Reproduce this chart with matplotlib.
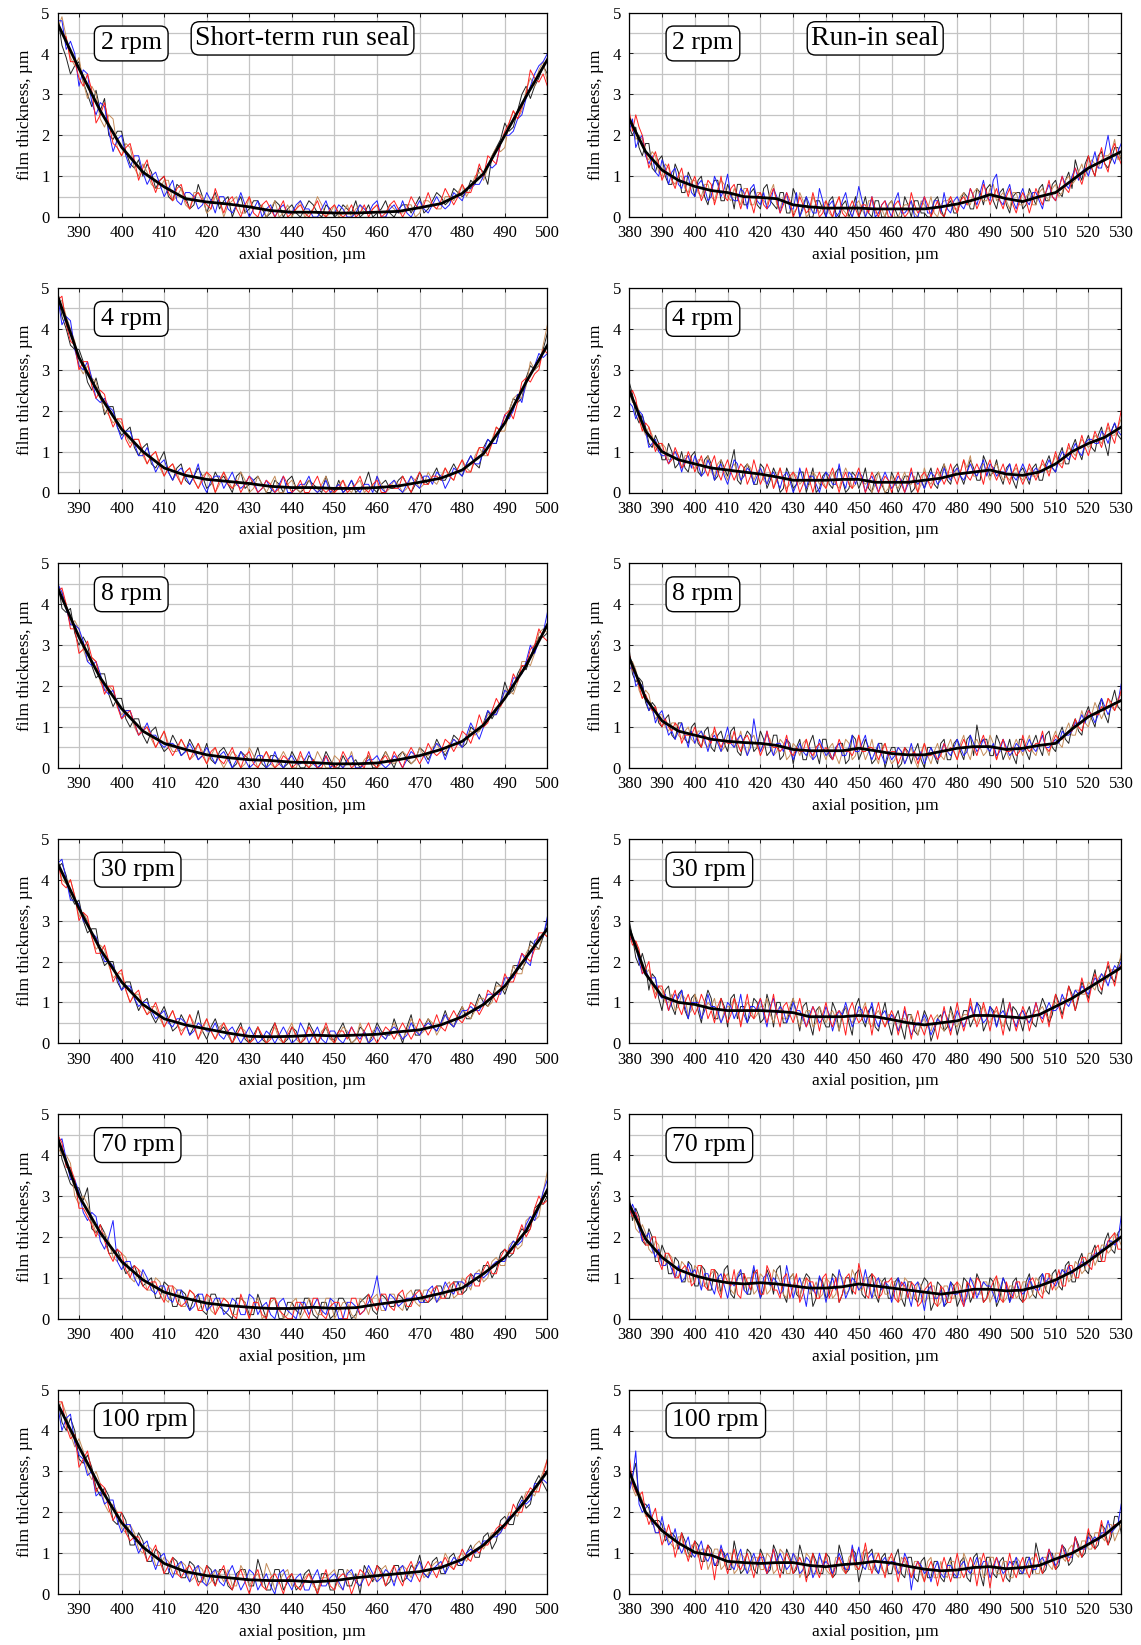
import numpy as np
import matplotlib.pyplot as plt
from matplotlib.ticker import MultipleLocator

plt.rcParams['font.family'] = ['Liberation Serif', 'DejaVu Serif']

speeds = [2, 4, 8, 30, 70, 100]
seal_names = ["Short-term run seal", "Run-in seal"]

# Each single measurement is sampled every 1 µm and stored as two interleaved
# halves: samples at start, start+2, ... and samples at start+1, start+3, ...
short_start, runin_start = 384, 380
short_avg_x = np.arange(385, 501, 5)
runin_avg_x = np.arange(380, 531, 5)

# ---------------- short-term run seal ----------------
short_2_m1 = [5.0, 4.2, 3.5, 3.8, 3.0, 3.1, 2.9, 1.9, 2.1, 1.3,
              1.4, 1.3, 0.7, 1.0, 0.4, 0.7, 0.2, 0.8, 0.1, 0.6,
              0.4, 0.0, 0.5, 0.2, 0.4, 0.0, 0.4, 0.0, 0.3, 0.0,
              0.4, 0.1, 0.3, 0.0, 0.3, 0.1, 0.0, 0.3, 0.1, 0.4,
              0.0, 0.3, 0.1, 0.5, 0.2, 0.6, 0.3, 0.7, 0.5, 0.9,
              1.2, 0.8, 1.7, 2.3, 2.2, 3.0, 2.9, 3.4, 3.5]
short_2_m1_i = [4.9, 3.9, 3.7, 3.3, 2.7, 2.6, 2.0, 2.1, 1.6, 1.2,
                1.0, 1.1, 0.9, 0.5, 0.8, 0.5, 0.3, 0.5, 0.4, 0.2,
                0.5, 0.3, 0.1, 0.4, 0.2, 0.1, 0.3, 0.2, 0.1, 0.2,
                0.3, 0.0, 0.2, 0.1, 0.2, 0.4, 0.1, 0.0, 0.2, 0.1,
                0.2, 0.3, 0.3, 0.1, 0.4, 0.5, 0.4, 0.6, 0.6, 0.8,
                1.1, 1.5, 1.9, 2.1, 2.6, 3.2, 3.2, 3.7]
short_2_m2 = [5.0, 4.9, 3.9, 3.9, 2.9, 3.0, 2.2, 2.4, 1.5, 1.7,
              1.0, 1.1, 0.7, 0.9, 0.4, 0.7, 0.2, 0.6, 0.1, 0.5,
              0.0, 0.4, 0.1, 0.5, 0.2, 0.0, 0.4, 0.1, 0.0, 0.4,
              0.1, 0.5, 0.0, 0.3, 0.1, 0.0, 0.3, 0.1, 0.3, 0.0,
              0.2, 0.1, 0.3, 0.1, 0.4, 0.2, 0.5, 0.4, 0.8, 0.7,
              1.1, 1.2, 1.7, 1.7, 2.6, 2.6, 3.4, 3.6, 3.3]
short_2_m2_i = [4.6, 4.4, 3.7, 3.3, 3.2, 2.4, 2.5, 1.7, 1.8, 1.2,
                1.3, 0.8, 0.7, 0.9, 0.5, 0.3, 0.6, 0.5, 0.2, 0.4,
                0.3, 0.5, 0.1, 0.2, 0.3, 0.2, 0.0, 0.3, 0.2, 0.0,
                0.2, 0.3, 0.1, 0.0, 0.3, 0.2, 0.1, 0.2, 0.0, 0.3,
                0.1, 0.3, 0.0, 0.4, 0.3, 0.2, 0.5, 0.6, 0.5, 1.0,
                0.9, 1.5, 1.6, 2.3, 2.4, 3.1, 3.2, 3.8]
short_2_m3 = [4.4, 4.8, 4.3, 3.2, 3.5, 2.5, 2.7, 1.6, 2.0, 1.2,
              1.5, 0.8, 1.1, 0.5, 0.9, 0.3, 0.6, 0.2, 0.6, 0.1,
              0.5, 0.1, 0.6, 0.0, 0.4, 0.2, 0.0, 0.3, 0.1, 0.4,
              0.2, 0.0, 0.4, 0.1, 0.2, 0.0, 0.3, 0.1, 0.4, 0.0,
              0.3, 0.4, 0.0, 0.4, 0.1, 0.5, 0.2, 0.6, 0.4, 0.7,
              0.8, 1.3, 1.3, 2.0, 2.1, 2.5, 3.2, 3.7, 4.0]
short_2_m3_i = [4.8, 4.1, 4.0, 3.6, 2.8, 2.8, 2.1, 1.9, 1.5, 1.5,
                1.1, 1.0, 0.8, 0.7, 0.4, 0.6, 0.5, 0.3, 0.4, 0.5,
                0.2, 0.3, 0.3, 0.2, 0.0, 0.3, 0.2, 0.1, 0.3, 0.2,
                0.0, 0.2, 0.1, 0.3, 0.0, 0.1, 0.2, 0.3, 0.0, 0.2,
                0.1, 0.1, 0.2, 0.2, 0.3, 0.3, 0.3, 0.5, 0.7, 0.8,
                1.0, 1.2, 1.8, 2.0, 2.4, 2.9, 3.5, 3.8]
short_2_m4 = [5.0, 4.5, 3.8, 3.4, 3.5, 2.3, 2.8, 1.8, 1.5, 1.8,
              0.9, 1.4, 0.6, 1.0, 0.4, 0.8, 0.2, 0.6, 0.3, 0.7,
              0.1, 0.5, 0.0, 0.5, 0.0, 0.4, 0.0, 0.4, 0.1, 0.3,
              0.0, 0.4, 0.0, 0.3, 0.0, 0.3, 0.1, 0.0, 0.3, 0.1,
              0.4, 0.0, 0.5, 0.2, 0.6, 0.2, 0.7, 0.3, 0.8, 0.6,
              1.3, 1.5, 1.3, 2.1, 2.6, 2.7, 3.6, 3.3, 3.2]
short_2_m4_i = [4.7, 4.4, 3.8, 3.2, 3.1, 2.5, 2.3, 1.7, 1.7, 1.4,
                1.2, 0.9, 0.9, 0.6, 0.7, 0.4, 0.5, 0.4, 0.2, 0.4,
                0.4, 0.2, 0.3, 0.1, 0.3, 0.2, 0.2, 0.0, 0.2, 0.1,
                0.2, 0.1, 0.2, 0.1, 0.1, 0.0, 0.3, 0.2, 0.0, 0.3,
                0.2, 0.2, 0.3, 0.3, 0.3, 0.4, 0.5, 0.5, 0.6, 0.9,
                1.0, 1.4, 1.8, 2.3, 2.4, 3.0, 3.4, 3.5]
short_2_avg = [4.73, 3.63, 2.6, 1.71, 1.1, 0.74, 0.45, 0.37, 0.32, 0.25, 0.16, 0.12,
               0.12, 0.1, 0.1, 0.12, 0.14, 0.23, 0.33, 0.58, 1.06, 2.0, 2.95, 3.85]

short_4_m1 = [5.0, 4.3, 3.6, 3.5, 2.7, 2.8, 1.9, 2.1, 1.4, 1.6,
              0.9, 1.2, 0.6, 1.0, 0.3, 0.7, 0.2, 0.6, 0.1, 0.5,
              0.4, 0.0, 0.5, 0.2, 0.4, 0.0, 0.3, 0.0, 0.4, 0.0,
              0.3, 0.1, 0.4, 0.0, 0.0, 0.3, 0.1, 0.5, 0.0, 0.3,
              0.1, 0.4, 0.0, 0.5, 0.2, 0.6, 0.3, 0.7, 0.4, 0.9,
              0.6, 1.3, 1.2, 1.7, 2.3, 2.3, 3.1, 3.1, 3.9]
short_4_m1_i = [4.9, 4.0, 3.5, 3.2, 2.5, 2.4, 2.1, 1.6, 1.5, 1.1,
                1.1, 0.7, 0.8, 0.5, 0.6, 0.3, 0.4, 0.4, 0.2, 0.3,
                0.2, 0.4, 0.1, 0.3, 0.2, 0.0, 0.2, 0.3, 0.1, 0.1,
                0.2, 0.0, 0.1, 0.3, 0.1, 0.0, 0.2, 0.1, 0.2, 0.1,
                0.3, 0.2, 0.2, 0.3, 0.4, 0.3, 0.5, 0.5, 0.7, 0.7,
                1.1, 1.2, 1.6, 2.0, 2.2, 2.8, 3.0, 3.5]
short_4_m2 = [5.0, 4.7, 4.0, 3.1, 3.1, 2.7, 2.0, 1.7, 1.7, 1.2,
              1.3, 0.7, 1.0, 0.4, 0.7, 0.2, 0.6, 0.1, 0.5, 0.0,
              0.5, 0.1, 0.5, 0.0, 0.4, 0.0, 0.4, 0.0, 0.3, 0.0,
              0.3, 0.0, 0.4, 0.0, 0.3, 0.0, 0.3, 0.1, 0.4, 0.0,
              0.3, 0.0, 0.4, 0.1, 0.5, 0.2, 0.6, 0.3, 0.8, 0.5,
              1.1, 0.9, 1.6, 1.5, 2.3, 2.3, 3.2, 3.1, 4.1]
short_4_m2_i = [4.6, 4.3, 3.7, 2.9, 2.8, 2.3, 1.9, 1.8, 1.4, 1.3,
                0.9, 0.9, 0.6, 0.6, 0.5, 0.5, 0.3, 0.4, 0.3, 0.2,
                0.3, 0.2, 0.3, 0.1, 0.2, 0.2, 0.0, 0.2, 0.1, 0.2,
                0.1, 0.2, 0.0, 0.2, 0.1, 0.2, 0.0, 0.1, 0.2, 0.1,
                0.2, 0.1, 0.3, 0.2, 0.3, 0.4, 0.4, 0.6, 0.6, 0.9,
                0.9, 1.3, 1.5, 2.0, 2.4, 2.6, 3.0, 3.6]
short_4_m3 = [4.7, 4.1, 4.2, 3.1, 3.2, 2.3, 2.3, 2.0, 1.3, 1.5,
              0.9, 1.1, 0.5, 0.8, 0.3, 0.6, 0.2, 0.7, 0.0, 0.4,
              0.1, 0.5, 0.1, 0.4, 0.0, 0.3, 0.0, 0.4, 0.0, 0.2,
              0.4, 0.0, 0.3, 0.1, 0.0, 0.3, 0.0, 0.2, 0.4, 0.0,
              0.3, 0.0, 0.4, 0.1, 0.4, 0.5, 0.1, 0.6, 0.4, 0.9,
              0.7, 1.3, 1.2, 1.9, 2.0, 2.2, 2.9, 3.4, 3.4]
short_4_m3_i = [4.8, 4.3, 3.5, 3.0, 2.8, 2.2, 2.1, 1.6, 1.5, 1.2,
                0.9, 0.8, 0.7, 0.5, 0.5, 0.4, 0.4, 0.2, 0.3, 0.4,
                0.3, 0.2, 0.2, 0.3, 0.1, 0.1, 0.2, 0.0, 0.1, 0.2,
                0.1, 0.1, 0.0, 0.2, 0.1, 0.1, 0.2, 0.0, 0.1, 0.2,
                0.1, 0.2, 0.2, 0.4, 0.2, 0.4, 0.3, 0.5, 0.7, 0.7,
                1.0, 1.2, 1.6, 1.8, 2.4, 2.7, 3.1, 3.3]
short_4_m4 = [5.0, 4.8, 3.7, 3.0, 3.2, 2.3, 2.4, 1.6, 1.8, 1.1,
              1.3, 0.7, 1.0, 0.4, 0.7, 0.2, 0.6, 0.1, 0.5, 0.0,
              0.5, 0.1, 0.0, 0.4, 0.0, 0.3, 0.0, 0.4, 0.0, 0.3,
              0.0, 0.4, 0.0, 0.0, 0.3, 0.1, 0.4, 0.0, 0.3, 0.0,
              0.1, 0.4, 0.0, 0.5, 0.2, 0.4, 0.6, 0.3, 0.8, 0.5,
              1.1, 0.9, 1.6, 1.9, 1.8, 2.7, 2.7, 3.0, 3.4]
short_4_m4_i = [4.7, 4.1, 3.6, 3.2, 2.6, 2.5, 1.9, 1.8, 1.3, 1.3,
                1.0, 0.9, 0.7, 0.6, 0.4, 0.5, 0.3, 0.3, 0.4, 0.3,
                0.2, 0.3, 0.2, 0.2, 0.1, 0.2, 0.1, 0.2, 0.1, 0.0,
                0.2, 0.1, 0.1, 0.1, 0.0, 0.2, 0.1, 0.2, 0.0, 0.2,
                0.1, 0.2, 0.3, 0.2, 0.4, 0.3, 0.4, 0.6, 0.5, 0.8,
                1.1, 1.2, 1.5, 2.0, 2.2, 2.8, 2.9, 3.5]
short_4_avg = [4.8, 3.3, 2.35, 1.55, 1.0, 0.6, 0.42, 0.32, 0.27, 0.22, 0.15, 0.12,
               0.12, 0.1, 0.1, 0.12, 0.16, 0.25, 0.35, 0.55, 0.95, 1.7, 2.7, 3.6]

short_8_m1 = [4.4, 3.9, 3.9, 3.0, 3.0, 2.2, 2.3, 1.5, 1.7, 1.0,
              1.2, 0.6, 1.0, 0.4, 0.8, 0.3, 0.7, 0.2, 0.6, 0.1,
              0.5, 0.0, 0.4, 0.2, 0.5, 0.0, 0.3, 0.0, 0.4, 0.0,
              0.3, 0.0, 0.4, 0.0, 0.3, 0.1, 0.0, 0.3, 0.0, 0.4,
              0.0, 0.4, 0.1, 0.5, 0.2, 0.7, 0.3, 0.8, 0.5, 1.0,
              0.9, 1.4, 1.4, 2.1, 1.9, 2.5, 2.7, 3.2, 3.3]
short_8_m1_i = [4.6, 3.8, 3.3, 3.2, 2.5, 2.3, 1.8, 1.7, 1.2, 1.2,
                0.8, 0.9, 0.6, 0.5, 0.6, 0.4, 0.5, 0.3, 0.2, 0.4,
                0.3, 0.1, 0.3, 0.2, 0.1, 0.3, 0.2, 0.1, 0.2, 0.0,
                0.2, 0.1, 0.2, 0.0, 0.1, 0.2, 0.1, 0.0, 0.2, 0.2,
                0.3, 0.2, 0.2, 0.4, 0.4, 0.5, 0.5, 0.7, 0.6, 0.9,
                1.1, 1.2, 1.6, 1.8, 2.3, 2.4, 3.0, 3.2]
short_8_m2 = [4.8, 4.3, 3.5, 3.4, 2.6, 2.6, 1.9, 1.9, 1.3, 1.4,
              0.8, 1.0, 0.5, 0.9, 0.4, 0.7, 0.2, 0.6, 0.1, 0.5,
              0.0, 0.4, 0.0, 0.5, 0.0, 0.4, 0.0, 0.4, 0.0, 0.3,
              0.0, 0.4, 0.0, 0.3, 0.0, 0.4, 0.0, 0.3, 0.0, 0.4,
              0.1, 0.4, 0.1, 0.5, 0.3, 0.6, 0.4, 0.7, 0.5, 0.9,
              0.9, 1.3, 1.3, 1.9, 1.8, 2.6, 2.5, 3.3, 3.3]
short_8_m2_i = [4.3, 4.0, 3.6, 2.9, 2.7, 2.1, 2.0, 1.5, 1.4, 1.0,
                1.0, 0.7, 0.7, 0.6, 0.4, 0.5, 0.3, 0.4, 0.3, 0.2,
                0.2, 0.3, 0.1, 0.3, 0.2, 0.1, 0.2, 0.2, 0.0, 0.2,
                0.1, 0.2, 0.0, 0.2, 0.1, 0.0, 0.2, 0.1, 0.1, 0.2,
                0.2, 0.3, 0.2, 0.3, 0.5, 0.4, 0.6, 0.6, 0.8, 0.8,
                1.1, 1.3, 1.5, 1.9, 2.1, 2.6, 2.8, 3.4]
short_8_m3 = [4.4, 4.3, 3.5, 3.4, 2.6, 2.6, 1.9, 1.9, 1.2, 1.4,
              0.8, 1.1, 0.8, 0.5, 0.6, 0.3, 0.6, 0.2, 0.5, 0.1,
              0.4, 0.0, 0.4, 0.0, 0.3, 0.0, 0.4, 0.0, 0.3, 0.1,
              0.4, 0.0, 0.3, 0.1, 0.0, 0.3, 0.0, 0.2, 0.3, 0.0,
              0.3, 0.0, 0.4, 0.3, 0.1, 0.6, 0.2, 0.7, 0.5, 1.1,
              0.7, 1.4, 1.3, 1.9, 2.2, 2.3, 3.0, 3.1, 3.8]
short_8_m3_i = [4.5, 3.9, 3.5, 3.1, 2.5, 2.3, 1.8, 1.6, 1.4, 1.1,
                0.9, 0.8, 0.6, 0.6, 0.5, 0.4, 0.4, 0.3, 0.3, 0.3,
                0.2, 0.2, 0.2, 0.1, 0.3, 0.1, 0.1, 0.2, 0.1, 0.2,
                0.1, 0.1, 0.0, 0.1, 0.2, 0.0, 0.1, 0.2, 0.1, 0.1,
                0.2, 0.2, 0.3, 0.3, 0.4, 0.5, 0.5, 0.6, 0.8, 0.9,
                1.0, 1.3, 1.6, 1.8, 2.2, 2.6, 2.8, 3.3]
short_8_m4 = [4.9, 4.4, 3.4, 2.8, 3.1, 2.6, 1.8, 2.0, 1.2, 1.4,
              0.8, 1.0, 0.5, 0.9, 0.3, 0.7, 0.2, 0.6, 0.1, 0.5,
              0.1, 0.5, 0.0, 0.4, 0.0, 0.4, 0.0, 0.3, 0.0, 0.4,
              0.0, 0.0, 0.3, 0.0, 0.4, 0.0, 0.1, 0.4, 0.0, 0.3,
              0.4, 0.0, 0.5, 0.1, 0.6, 0.3, 0.7, 0.4, 0.9, 0.6,
              1.3, 1.1, 1.7, 1.7, 2.3, 2.5, 2.9, 3.4, 3.1]
short_8_m4_i = [4.3, 4.0, 3.4, 2.9, 2.7, 2.2, 2.0, 1.5, 1.3, 1.1,
                0.9, 0.8, 0.7, 0.5, 0.5, 0.5, 0.4, 0.3, 0.4, 0.2,
                0.3, 0.2, 0.3, 0.1, 0.2, 0.2, 0.1, 0.2, 0.1, 0.1,
                0.2, 0.0, 0.1, 0.1, 0.2, 0.1, 0.0, 0.1, 0.2, 0.1,
                0.2, 0.3, 0.3, 0.3, 0.4, 0.4, 0.6, 0.6, 0.8, 0.9,
                1.0, 1.4, 1.5, 1.9, 2.1, 2.5, 3.0, 3.2]
short_8_avg = [4.4, 3.2, 2.2, 1.45, 0.9, 0.6, 0.45, 0.32, 0.25, 0.2, 0.18, 0.14,
               0.13, 0.1, 0.1, 0.12, 0.2, 0.3, 0.45, 0.65, 1.05, 1.7, 2.5, 3.5]

short_30_m1 = [4.4, 4.4, 3.6, 3.5, 2.7, 2.8, 1.9, 2.0, 1.3, 1.5,
               0.8, 1.1, 0.5, 0.9, 0.3, 0.7, 0.2, 0.8, 0.1, 0.6,
               0.4, 0.0, 0.5, 0.0, 0.4, 0.0, 0.5, 0.0, 0.4, 0.0,
               0.5, 0.0, 0.4, 0.1, 0.5, 0.0, 0.4, 0.0, 0.5, 0.2,
               0.6, 0.0, 0.7, 0.2, 0.6, 0.3, 0.8, 0.4, 0.9, 0.6,
               1.2, 0.9, 1.5, 1.2, 1.9, 1.8, 2.5, 2.3, 3.0]
short_30_m1_i = [4.3, 4.1, 3.4, 3.0, 2.8, 2.2, 2.0, 1.5, 1.5, 1.1,
                 1.0, 0.7, 0.7, 0.6, 0.4, 0.5, 0.4, 0.3, 0.4, 0.3,
                 0.2, 0.3, 0.1, 0.2, 0.1, 0.3, 0.2, 0.1, 0.3, 0.1,
                 0.3, 0.2, 0.1, 0.3, 0.2, 0.1, 0.3, 0.2, 0.3, 0.2,
                 0.3, 0.4, 0.2, 0.4, 0.4, 0.5, 0.5, 0.7, 0.6, 0.9,
                 1.0, 1.1, 1.4, 1.5, 1.9, 2.0, 2.4, 2.6]
short_30_m2 = [4.7, 4.0, 4.0, 3.1, 3.0, 2.3, 2.3, 1.6, 1.7, 1.0,
               1.2, 0.7, 0.9, 0.4, 0.8, 0.3, 0.7, 0.1, 0.6, 0.1,
               0.5, 0.0, 0.4, 0.0, 0.4, 0.0, 0.4, 0.0, 0.5, 0.0,
               0.4, 0.0, 0.4, 0.0, 0.4, 0.0, 0.5, 0.0, 0.4, 0.1,
               0.5, 0.1, 0.6, 0.2, 0.6, 0.2, 0.7, 0.4, 0.9, 0.6,
               1.1, 0.9, 1.4, 1.3, 1.9, 1.7, 2.4, 2.3, 2.6]
short_30_m2_i = [4.5, 3.9, 3.6, 3.2, 2.6, 2.4, 1.9, 1.7, 1.3, 1.2,
                 0.9, 0.9, 0.6, 0.6, 0.5, 0.4, 0.5, 0.3, 0.3, 0.4,
                 0.2, 0.2, 0.3, 0.1, 0.2, 0.2, 0.1, 0.3, 0.1, 0.2,
                 0.2, 0.3, 0.1, 0.2, 0.3, 0.1, 0.2, 0.3, 0.2, 0.3,
                 0.2, 0.3, 0.4, 0.3, 0.5, 0.4, 0.6, 0.6, 0.7, 0.8,
                 1.1, 1.0, 1.4, 1.5, 1.7, 2.2, 2.3, 2.7]
short_30_m3 = [4.2, 4.5, 3.5, 3.4, 2.9, 2.6, 2.0, 1.9, 1.3, 1.4,
               0.9, 1.0, 0.6, 0.8, 0.4, 0.6, 0.2, 0.5, 0.3, 0.5,
               0.1, 0.4, 0.0, 0.4, 0.0, 0.3, 0.0, 0.4, 0.0, 0.5,
               0.0, 0.4, 0.0, 0.3, 0.0, 0.4, 0.1, 0.0, 0.4, 0.1,
               0.4, 0.1, 0.5, 0.2, 0.5, 0.3, 0.7, 0.4, 0.8, 0.9,
               0.8, 1.2, 1.2, 1.6, 1.6, 2.2, 1.9, 2.6, 3.1]
short_30_m3_i = [4.4, 4.0, 3.5, 3.0, 2.7, 2.3, 2.0, 1.6, 1.4, 1.1,
                 1.0, 0.8, 0.7, 0.5, 0.6, 0.5, 0.3, 0.4, 0.3, 0.2,
                 0.3, 0.2, 0.2, 0.2, 0.1, 0.2, 0.2, 0.2, 0.1, 0.3,
                 0.2, 0.1, 0.3, 0.1, 0.2, 0.2, 0.3, 0.1, 0.2, 0.3,
                 0.3, 0.2, 0.3, 0.4, 0.4, 0.5, 0.5, 0.6, 0.8, 0.8,
                 1.0, 1.2, 1.2, 1.6, 1.9, 2.0, 2.5, 2.6]
short_30_m4 = [4.8, 3.9, 4.0, 3.0, 3.1, 2.2, 2.4, 1.5, 1.8, 1.0,
               1.3, 0.7, 1.0, 0.4, 0.8, 0.2, 0.7, 0.1, 0.6, 0.1,
               0.5, 0.0, 0.4, 0.0, 0.4, 0.0, 0.5, 0.0, 0.4, 0.0,
               0.4, 0.0, 0.5, 0.0, 0.3, 0.4, 0.0, 0.5, 0.0, 0.4,
               0.1, 0.5, 0.1, 0.6, 0.2, 0.7, 0.3, 0.8, 0.5, 1.0,
               0.7, 1.3, 1.0, 1.7, 1.5, 2.2, 2.0, 2.7, 2.6]
short_30_m4_i = [4.5, 3.8, 3.6, 3.2, 2.6, 2.2, 2.0, 1.7, 1.3, 1.2,
                 0.9, 0.8, 0.7, 0.6, 0.5, 0.4, 0.4, 0.4, 0.3, 0.3,
                 0.3, 0.2, 0.2, 0.1, 0.2, 0.1, 0.2, 0.2, 0.2, 0.1,
                 0.2, 0.2, 0.2, 0.3, 0.1, 0.2, 0.3, 0.2, 0.2, 0.3,
                 0.3, 0.3, 0.3, 0.4, 0.4, 0.4, 0.6, 0.6, 0.7, 0.9,
                 0.9, 1.2, 1.3, 1.5, 1.8, 2.1, 2.3, 2.7]
short_30_avg = [4.4, 3.3, 2.3, 1.5, 0.95, 0.6, 0.45, 0.35, 0.25, 0.17, 0.16, 0.17,
                0.2, 0.18, 0.2, 0.22, 0.28, 0.33, 0.45, 0.65, 0.95, 1.4, 2.1, 2.8]

short_70_m1 = [4.4, 3.9, 3.3, 3.2, 3.2, 2.1, 2.1, 1.6, 1.4, 1.2,
               1.0, 0.9, 0.5, 0.9, 0.3, 0.7, 0.2, 0.6, 0.1, 0.6,
               0.2, 0.0, 0.5, 0.1, 0.6, 0.0, 0.5, 0.0, 0.4, 0.1,
               0.5, 0.0, 0.4, 0.1, 0.5, 0.0, 0.4, 0.6, 0.1, 0.5,
               0.3, 0.5, 0.4, 0.7, 0.4, 0.8, 0.5, 0.9, 0.6, 1.1,
               0.9, 1.3, 1.2, 1.7, 1.6, 2.2, 2.2, 2.8, 3.0]
short_70_m1_i = [4.6, 3.6, 3.2, 2.9, 2.2, 2.3, 1.6, 1.7, 1.1, 1.3,
                 0.8, 1.0, 0.5, 0.8, 0.3, 0.6, 0.5, 0.2, 0.6, 0.3,
                 0.1, 0.5, 0.4, 0.1, 0.3, 0.5, 0.0, 0.4, 0.2, 0.5,
                 0.1, 0.4, 0.0, 0.5, 0.3, 0.1, 0.5, 0.2, 0.6, 0.3,
                 0.6, 0.2, 0.7, 0.4, 0.5, 0.8, 0.5, 0.9, 0.7, 1.0,
                 1.3, 1.0, 1.6, 1.5, 2.0, 2.1, 2.7, 2.8]
short_70_m2 = [4.8, 4.0, 3.8, 2.8, 2.8, 2.1, 2.1, 1.5, 1.6, 1.0,
               1.2, 0.7, 1.0, 0.5, 0.8, 0.3, 0.7, 0.2, 0.6, 0.1,
               0.5, 0.1, 0.5, 0.0, 0.5, 0.1, 0.5, 0.0, 0.4, 0.0,
               0.5, 0.1, 0.5, 0.0, 0.4, 0.1, 0.5, 0.1, 0.6, 0.2,
               0.6, 0.2, 0.7, 0.3, 0.7, 0.4, 0.8, 0.5, 1.0, 0.7,
               1.2, 1.0, 1.5, 1.3, 1.9, 1.8, 2.5, 2.5, 3.6]
short_70_m2_i = [4.2, 4.0, 3.0, 3.0, 2.4, 2.0, 1.9, 1.4, 1.5, 0.9,
                 1.1, 0.7, 0.9, 0.4, 0.7, 0.3, 0.6, 0.4, 0.2, 0.5,
                 0.4, 0.1, 0.4, 0.3, 0.0, 0.4, 0.3, 0.1, 0.5, 0.2,
                 0.3, 0.1, 0.5, 0.2, 0.4, 0.0, 0.4, 0.5, 0.2, 0.6,
                 0.3, 0.6, 0.4, 0.7, 0.6, 0.5, 0.9, 0.6, 0.9, 1.1,
                 0.9, 1.4, 1.3, 1.8, 1.7, 2.4, 2.4, 3.1]
short_70_m3 = [4.5, 4.4, 3.4, 3.1, 2.4, 2.5, 1.7, 2.4, 1.2, 1.4,
               0.8, 1.0, 0.6, 0.8, 0.4, 0.7, 0.2, 0.6, 0.2, 0.5,
               0.1, 0.5, 0.1, 0.6, 0.1, 0.4, 0.0, 0.5, 0.1, 0.4,
               0.1, 0.5, 0.1, 0.4, 0.0, 0.4, 0.1, 0.4, 1.05, 0.2,
               0.5, 0.4, 0.5, 0.4, 0.7, 0.4, 0.9, 0.6, 0.9, 0.8,
               1.1, 1.1, 1.4, 1.4, 1.9, 1.9, 2.5, 2.7, 3.4]
short_70_m3_i = [4.3, 3.9, 3.4, 2.6, 2.6, 1.9, 2.0, 1.4, 1.4, 1.0,
                 1.2, 0.7, 0.8, 0.5, 0.7, 0.4, 0.3, 0.6, 0.3, 0.5,
                 0.2, 0.4, 0.1, 0.5, 0.3, 0.1, 0.4, 0.2, 0.0, 0.4,
                 0.3, 0.2, 0.5, 0.0, 0.4, 0.3, 0.2, 0.6, 0.4, 0.6,
                 0.3, 0.5, 0.6, 0.4, 0.8, 0.6, 0.7, 0.9, 0.8, 1.1,
                 1.0, 1.3, 1.4, 1.7, 1.8, 2.3, 2.4, 3.1]
short_70_m4 = [4.9, 4.3, 3.7, 2.7, 2.5, 2.0, 1.9, 1.4, 1.6, 1.0,
               1.2, 0.7, 0.9, 0.4, 0.8, 0.3, 0.7, 0.2, 0.6, 0.1,
               0.5, 0.1, 0.6, 0.0, 0.4, 0.0, 0.5, 0.1, 0.0, 0.4,
               0.0, 0.5, 0.0, 0.4, 0.0, 0.5, 0.1, 0.6, 0.2, 0.6,
               0.2, 0.7, 0.3, 0.7, 0.4, 0.8, 0.5, 0.9, 0.6, 1.1,
               0.8, 1.4, 1.1, 1.7, 1.6, 2.3, 2.2, 3.0, 2.9]
short_70_m4_i = [4.5, 3.7, 3.4, 2.7, 2.3, 2.3, 1.6, 1.7, 1.2, 1.3,
                 0.8, 0.9, 0.6, 0.8, 0.4, 0.4, 0.6, 0.2, 0.5, 0.3,
                 0.4, 0.0, 0.3, 0.4, 0.1, 0.5, 0.2, 0.0, 0.4, 0.2,
                 0.5, 0.1, 0.3, 0.4, 0.0, 0.5, 0.2, 0.4, 0.6, 0.3,
                 0.6, 0.3, 0.6, 0.5, 0.7, 0.5, 0.8, 0.6, 1.0, 0.8,
                 1.2, 1.1, 1.5, 1.6, 2.0, 2.0, 2.7, 2.8]
short_70_avg = [4.4, 3.0, 2.1, 1.4, 0.95, 0.65, 0.5, 0.38, 0.32, 0.28, 0.25, 0.25,
                0.28, 0.25, 0.27, 0.35, 0.42, 0.5, 0.62, 0.75, 1.1, 1.5, 2.15, 3.15]

short_100_m1 = [4.6, 4.2, 4.3, 3.3, 3.4, 2.6, 2.6, 1.8, 2.0, 1.2,
                1.5, 0.8, 1.1, 0.5, 0.9, 0.4, 0.8, 0.3, 0.7, 0.2,
                0.6, 0.1, 0.6, 0.2, 0.85, 0.1, 0.6, 0.1, 0.5, 0.2,
                0.6, 0.0, 0.5, 0.1, 0.6, 0.2, 0.0, 0.5, 0.7, 0.2,
                0.7, 0.3, 0.7, 0.95, 0.4, 0.9, 0.5, 1.0, 0.7, 1.2,
                0.9, 1.5, 1.3, 1.9, 1.7, 2.4, 2.2, 2.9, 2.5]
short_100_m1_i = [4.8, 4.0, 4.0, 3.2, 3.1, 2.4, 2.4, 1.7, 1.8, 1.2,
                  1.3, 0.8, 1.0, 0.5, 0.8, 0.4, 0.7, 0.3, 0.6, 0.6,
                  0.2, 0.5, 0.6, 0.2, 0.5, 0.1, 0.6, 0.3, 0.1, 0.5,
                  0.3, 0.5, 0.1, 0.6, 0.2, 0.5, 0.7, 0.3, 0.6, 0.3,
                  0.7, 0.4, 0.6, 0.5, 0.8, 0.5, 0.9, 0.7, 1.0, 0.9,
                  1.4, 1.1, 1.8, 1.7, 2.2, 2.1, 2.7, 2.7]
short_100_m2 = [5.0, 4.7, 3.9, 3.8, 3.0, 3.0, 2.2, 2.2, 1.6, 1.7,
                1.1, 1.2, 0.7, 0.9, 0.5, 0.8, 0.3, 0.7, 0.2, 0.6,
                0.3, 0.2, 0.7, 0.2, 0.5, 0.75, 0.1, 0.5, 0.2, 0.1,
                0.5, 0.1, 0.4, 0.6, 0.1, 0.5, 0.2, 0.6, 0.3, 0.7,
                0.3, 0.7, 0.4, 0.8, 0.5, 0.8, 1.0, 0.6, 1.0, 1.0,
                1.3, 1.3, 1.5, 1.7, 2.0, 2.2, 2.5, 2.7, 3.3]
short_100_m2_i = [4.5, 4.4, 3.6, 3.5, 2.8, 2.7, 2.0, 2.0, 1.5, 1.5,
                  1.0, 1.1, 0.7, 0.8, 0.5, 0.7, 0.4, 0.6, 0.3, 0.5,
                  0.6, 0.2, 0.5, 0.4, 0.2, 0.5, 0.3, 0.6, 0.2, 0.4,
                  0.2, 0.4, 0.5, 0.2, 0.6, 0.3, 0.5, 0.4, 0.6, 0.4,
                  0.5, 0.6, 0.7, 0.4, 0.7, 0.6, 0.8, 0.9, 0.8, 1.2,
                  1.1, 1.5, 1.5, 2.0, 1.9, 2.5, 2.4, 3.0]
short_100_m3 = [4.7, 4.0, 4.4, 3.4, 2.9, 2.4, 2.2, 2.3, 1.5, 1.7,
                1.0, 1.3, 0.6, 1.0, 0.4, 0.8, 0.3, 0.7, 0.2, 0.6,
                0.2, 0.7, 0.1, 0.6, 0.1, 0.5, 0.0, 0.6, 0.1, 0.5,
                0.1, 0.6, 0.2, 0.5, 0.1, 0.6, 0.2, 0.7, 0.3, 0.6,
                0.2, 0.7, 0.3, 0.8, 0.4, 0.7, 0.5, 0.9, 0.7, 1.1,
                1.1, 1.3, 1.4, 1.7, 1.9, 2.3, 2.3, 2.7, 2.7]
short_100_m3_i = [4.6, 4.3, 3.7, 3.3, 3.0, 2.5, 2.3, 1.8, 1.7, 1.3,
                  1.2, 0.9, 0.9, 0.6, 0.7, 0.5, 0.6, 0.3, 0.5, 0.3,
                  0.5, 0.4, 0.3, 0.5, 0.3, 0.2, 0.5, 0.3, 0.4, 0.1,
                  0.4, 0.2, 0.4, 0.3, 0.5, 0.3, 0.4, 0.5, 0.4, 0.5,
                  0.6, 0.4, 0.6, 0.5, 0.6, 0.8, 0.7, 0.8, 1.0, 1.0,
                  1.3, 1.4, 1.5, 1.9, 2.1, 2.2, 2.7, 2.8]
short_100_m4 = [5.0, 4.7, 3.8, 3.1, 3.5, 2.5, 2.6, 1.8, 2.0, 1.3,
                1.4, 0.8, 1.2, 0.5, 0.9, 0.4, 0.7, 0.2, 0.7, 0.2,
                0.7, 0.1, 0.6, 0.0, 0.6, 0.1, 0.5, 0.0, 0.5, 0.1,
                0.5, 0.0, 0.6, 0.1, 0.5, 0.0, 0.6, 0.2, 0.7, 0.2,
                0.7, 0.2, 0.8, 0.3, 0.8, 0.4, 0.9, 0.6, 1.1, 0.8,
                1.0, 1.2, 1.6, 1.6, 2.2, 2.0, 2.6, 2.5, 3.3]
short_100_m4_i = [4.7, 4.1, 3.9, 3.3, 3.0, 2.7, 2.1, 2.0, 1.5, 1.4,
                  1.1, 1.0, 0.8, 0.7, 0.5, 0.6, 0.5, 0.4, 0.4, 0.5,
                  0.3, 0.4, 0.3, 0.4, 0.2, 0.4, 0.3, 0.4, 0.2, 0.3,
                  0.3, 0.3, 0.2, 0.4, 0.4, 0.3, 0.5, 0.4, 0.5, 0.5,
                  0.4, 0.6, 0.5, 0.6, 0.6, 0.7, 0.7, 0.8, 0.9, 1.1,
                  1.2, 1.4, 1.7, 1.8, 2.0, 2.4, 2.5, 2.9]
short_100_avg = [4.65, 3.6, 2.6, 1.75, 1.15, 0.75, 0.55, 0.45, 0.4, 0.35, 0.33, 0.33,
                 0.3, 0.33, 0.4, 0.45, 0.5, 0.55, 0.65, 0.85, 1.2, 1.7, 2.3, 3.0]

# ---------------- run-in seal ----------------
runin_2_m1 = [2.2, 2.2, 1.5, 1.8, 1.1, 1.5, 0.8, 1.3, 0.6, 1.1,
              0.5, 1.0, 0.3, 0.9, 0.4, 0.8, 0.2, 0.8, 0.3, 0.7,
              0.2, 0.8, 0.3, 0.6, 0.1, 0.7, 0.0, 0.5, 0.0, 0.4,
              0.0, 0.5, 0.0, 0.4, 0.2, 0.0, 0.5, 0.0, 0.4, 0.0,
              0.4, 0.0, 0.5, 0.0, 0.4, 0.1, 0.0, 0.5, 0.0, 0.4,
              0.1, 0.6, 0.2, 0.7, 0.3, 0.8, 0.2, 0.7, 0.1, 0.6,
              0.2, 0.7, 0.3, 0.8, 0.4, 0.9, 0.5, 1.1, 1.4, 0.9,
              1.5, 1.0, 1.6, 1.2, 1.7, 1.4]
runin_2_m1_i = [2.0, 1.7, 1.8, 1.2, 1.4, 1.0, 0.8, 1.1, 0.6, 0.9,
                0.9, 0.5, 0.7, 0.9, 0.4, 0.6, 0.8, 0.3, 0.6, 0.3,
                0.7, 0.4, 0.2, 0.6, 0.1, 0.5, 0.3, 0.0, 0.4, 0.2,
                0.4, 0.1, 0.3, 0.0, 0.5, 0.2, 0.1, 0.4, 0.0, 0.3,
                0.2, 0.0, 0.3, 0.4, 0.1, 0.0, 0.4, 0.2, 0.3, 0.1,
                0.4, 0.5, 0.2, 0.6, 0.7, 0.4, 0.6, 0.3, 0.5, 0.6,
                0.3, 0.5, 0.7, 0.4, 0.8, 0.6, 0.9, 0.7, 1.1, 1.3,
                1.2, 1.5, 1.3, 1.4, 1.7]
runin_2_m2 = [2.5, 1.9, 1.9, 1.4, 1.5, 1.0, 1.2, 0.8, 1.0, 0.6,
              0.9, 0.5, 0.8, 0.4, 0.9, 0.5, 0.7, 0.3, 0.7, 0.3,
              0.6, 0.3, 0.8, 0.2, 0.5, 0.1, 0.6, 0.0, 0.5, 0.1,
              0.4, 0.0, 0.5, 0.1, 0.0, 0.4, 0.0, 0.4, 0.1, 0.0,
              0.4, 0.0, 0.3, 0.4, 0.0, 0.3, 0.5, 0.0, 0.4, 0.5,
              0.2, 0.6, 0.3, 0.7, 0.4, 0.7, 0.4, 0.6, 0.2, 0.6,
              0.3, 0.6, 0.3, 0.7, 0.4, 0.8, 0.6, 1.0, 0.9, 1.3,
              1.2, 1.3, 1.4, 1.5, 1.9, 1.5]
runin_2_m2_i = [2.3, 2.0, 1.5, 1.6, 1.1, 1.3, 0.9, 1.0, 0.7, 0.9,
                0.6, 0.8, 0.5, 0.7, 0.8, 0.4, 0.5, 0.7, 0.3, 0.6,
                0.4, 0.6, 0.3, 0.5, 0.3, 0.2, 0.4, 0.1, 0.3, 0.3,
                0.1, 0.3, 0.2, 0.0, 0.3, 0.2, 0.4, 0.1, 0.2, 0.3,
                0.0, 0.2, 0.3, 0.1, 0.4, 0.2, 0.1, 0.3, 0.4, 0.2,
                0.5, 0.3, 0.6, 0.5, 0.4, 0.8, 0.5, 0.4, 0.6, 0.3,
                0.5, 0.3, 0.6, 0.5, 0.7, 0.5, 0.9, 0.8, 1.1, 1.0,
                1.4, 1.2, 1.5, 1.6, 1.4]
runin_2_m3 = [2.1, 1.7, 2.0, 1.3, 1.1, 1.4, 0.8, 1.2, 0.7, 1.0,
              0.5, 0.9, 0.4, 1.0, 0.5, 1.05, 0.4, 0.7, 0.2, 0.8,
              0.3, 0.2, 0.7, 0.1, 0.6, 0.2, 0.0, 0.5, 0.1, 0.7,
              0.0, 0.4, 0.1, 0.6, 0.0, 0.75, 0.0, 0.5, 0.1, 0.4,
              0.0, 0.6, 0.1, 0.4, 0.0, 0.5, 0.1, 0.4, 0.6, 0.1,
              0.5, 0.2, 0.7, 0.3, 0.9, 0.4, 1.05, 0.3, 0.8, 0.2,
              0.7, 0.3, 0.6, 0.2, 0.8, 0.4, 1.0, 0.7, 1.2, 1.1,
              1.0, 1.6, 1.2, 2.0, 1.3, 1.8]
runin_2_m3_i = [2.4, 1.9, 1.5, 1.5, 1.0, 1.2, 1.1, 0.8, 1.0, 0.6,
                0.8, 0.7, 0.5, 0.8, 0.7, 0.5, 0.4, 0.6, 0.7, 0.4,
                0.6, 0.3, 0.5, 0.4, 0.2, 0.6, 0.2, 0.3, 0.1, 0.4,
                0.3, 0.0, 0.4, 0.2, 0.3, 0.4, 0.2, 0.0, 0.3, 0.2,
                0.4, 0.1, 0.2, 0.0, 0.3, 0.1, 0.4, 0.1, 0.2, 0.4,
                0.3, 0.4, 0.5, 0.6, 0.5, 0.9, 0.4, 0.6, 0.4, 0.5,
                0.4, 0.6, 0.4, 0.6, 0.5, 0.7, 0.8, 1.0, 0.9, 1.2,
                1.3, 1.2, 1.6, 1.5, 1.6]
runin_2_m4 = [2.6, 2.5, 2.0, 1.2, 1.6, 0.9, 1.3, 0.7, 1.2, 0.5,
              1.0, 0.4, 0.9, 0.3, 1.0, 0.4, 0.8, 0.2, 0.7, 0.1,
              0.6, 0.2, 0.7, 0.1, 0.6, 0.0, 0.5, 0.1, 0.6, 0.0,
              0.4, 0.0, 0.5, 0.0, 0.4, 0.0, 0.3, 0.5, 0.0, 0.4,
              0.0, 0.4, 0.0, 0.6, 0.1, 0.5, 0.0, 0.4, 0.0, 0.5,
              0.1, 0.5, 0.7, 0.2, 0.8, 0.3, 0.7, 0.2, 0.7, 0.1,
              0.6, 0.1, 0.7, 0.3, 0.9, 0.4, 1.0, 0.6, 1.2, 0.8,
              1.5, 1.0, 1.7, 1.1, 1.8, 1.3]
runin_2_m4_i = [2.1, 2.2, 1.6, 1.4, 1.3, 1.1, 0.9, 1.0, 0.8, 0.8,
                0.7, 0.6, 0.8, 0.6, 0.5, 0.7, 0.5, 0.5, 0.4, 0.5,
                0.3, 0.5, 0.4, 0.3, 0.4, 0.2, 0.3, 0.2, 0.3, 0.1,
                0.2, 0.3, 0.1, 0.2, 0.2, 0.3, 0.1, 0.2, 0.3, 0.0,
                0.3, 0.2, 0.1, 0.3, 0.2, 0.3, 0.2, 0.1, 0.3, 0.3,
                0.4, 0.3, 0.5, 0.4, 0.6, 0.5, 0.4, 0.5, 0.3, 0.4,
                0.4, 0.4, 0.5, 0.6, 0.5, 0.7, 0.7, 0.9, 1.0, 1.1,
                1.2, 1.4, 1.3, 1.6, 1.5]
runin_2_avg = [2.4, 1.6, 1.15, 0.9, 0.75, 0.65, 0.6, 0.5, 0.48, 0.45, 0.3, 0.25, 0.22,
               0.22, 0.22, 0.2, 0.2, 0.2, 0.2, 0.25, 0.32, 0.42, 0.55, 0.45, 0.38, 0.5,
               0.6, 0.9, 1.2, 1.4, 1.6]

runin_4_m1 = [2.7, 1.9, 1.9, 1.2, 1.4, 0.8, 1.2, 0.6, 1.0, 0.5,
              1.0, 0.4, 0.9, 0.3, 0.8, 0.4, 1.05, 0.2, 0.7, 0.2,
              0.7, 0.1, 0.6, 0.0, 0.6, 0.1, 0.5, 0.0, 0.6, 0.1,
              0.5, 0.1, 0.6, 0.0, 0.5, 0.1, 0.6, 0.0, 0.5, 0.0,
              0.5, 0.0, 0.4, 0.0, 0.5, 0.1, 0.6, 0.1, 0.7, 0.2,
              0.7, 0.2, 0.8, 0.3, 0.9, 0.4, 0.8, 0.2, 0.7, 0.1,
              0.6, 0.2, 0.7, 0.3, 0.9, 0.5, 1.1, 0.7, 1.3, 0.8,
              1.4, 1.0, 1.6, 0.9, 1.7, 1.3]
runin_4_m1_i = [2.4, 1.7, 1.6, 1.1, 1.2, 0.8, 1.0, 0.7, 0.6, 0.9,
                0.5, 0.8, 0.7, 0.4, 0.6, 0.7, 0.3, 0.6, 0.5, 0.2,
                0.6, 0.3, 0.4, 0.1, 0.4, 0.2, 0.5, 0.3, 0.0, 0.4,
                0.2, 0.5, 0.3, 0.1, 0.4, 0.3, 0.1, 0.4, 0.2, 0.0,
                0.3, 0.2, 0.4, 0.1, 0.3, 0.4, 0.2, 0.5, 0.3, 0.6,
                0.4, 0.5, 0.6, 0.3, 0.7, 0.5, 0.4, 0.6, 0.3, 0.5,
                0.4, 0.6, 0.3, 0.7, 0.6, 0.9, 0.7, 1.1, 1.0, 1.2,
                1.1, 1.4, 1.2, 1.5, 1.4]
runin_4_m2 = [2.5, 2.2, 1.6, 1.6, 1.1, 1.2, 0.8, 1.0, 0.6, 0.9,
              0.6, 0.8, 0.9, 0.4, 0.8, 0.3, 0.7, 0.3, 0.7, 0.3,
              0.6, 0.2, 0.1, 0.6, 0.1, 0.5, 0.2, 0.1, 0.5, 0.2,
              0.1, 0.5, 0.1, 0.6, 0.1, 0.5, 0.2, 0.0, 0.5, 0.0,
              0.4, 0.1, 0.5, 0.2, 0.0, 0.6, 0.2, 0.5, 0.7, 0.3,
              0.6, 0.8, 0.9, 0.4, 0.7, 0.3, 0.7, 0.3, 0.3, 0.6,
              0.3, 0.6, 0.4, 0.7, 0.5, 0.9, 0.7, 1.1, 0.9, 1.3,
              1.1, 1.4, 1.2, 1.6, 1.4, 1.8]
runin_4_m2_i = [2.2, 2.0, 1.4, 1.4, 1.0, 1.1, 0.8, 0.9, 0.9, 0.6,
                0.8, 0.6, 0.5, 0.7, 0.5, 0.6, 0.5, 0.4, 0.6, 0.5,
                0.3, 0.5, 0.4, 0.3, 0.2, 0.4, 0.3, 0.2, 0.4, 0.3,
                0.3, 0.2, 0.4, 0.4, 0.2, 0.3, 0.3, 0.2, 0.3, 0.1,
                0.2, 0.3, 0.2, 0.4, 0.2, 0.3, 0.4, 0.3, 0.5, 0.4,
                0.5, 0.6, 0.4, 0.6, 0.5, 0.6, 0.5, 0.4, 0.5, 0.4,
                0.5, 0.4, 0.6, 0.6, 0.7, 0.7, 0.9, 1.0, 1.1, 1.2,
                1.2, 1.3, 1.4, 1.4, 1.6]
runin_4_m3 = [2.2, 1.8, 1.9, 1.1, 1.3, 0.9, 0.7, 1.0, 0.5, 0.9,
              0.9, 0.4, 0.8, 0.3, 0.7, 0.2, 0.8, 0.3, 0.6, 0.2,
              0.6, 0.2, 0.5, 0.1, 0.5, 0.0, 0.6, 0.1, 0.4, 0.0,
              0.5, 0.2, 0.7, 0.1, 0.4, 0.5, 0.0, 0.4, 0.0, 0.5,
              0.1, 0.4, 0.0, 0.5, 0.2, 0.1, 0.5, 0.2, 0.6, 0.3,
              0.6, 0.3, 0.7, 0.4, 0.8, 0.7, 0.4, 0.5, 0.7, 0.3,
              0.7, 0.3, 0.6, 0.5, 0.8, 0.5, 1.0, 0.8, 1.2, 0.9,
              1.3, 1.2, 1.5, 1.2, 1.7, 1.4]
runin_4_m3_i = [2.1, 2.0, 1.5, 1.2, 1.0, 0.9, 0.9, 0.8, 0.8, 0.6,
                0.7, 0.5, 0.6, 0.6, 0.4, 0.5, 0.7, 0.4, 0.5, 0.4,
                0.4, 0.4, 0.3, 0.4, 0.3, 0.2, 0.3, 0.4, 0.2, 0.3,
                0.4, 0.2, 0.3, 0.5, 0.2, 0.4, 0.3, 0.2, 0.3, 0.3,
                0.2, 0.3, 0.2, 0.3, 0.3, 0.3, 0.4, 0.3, 0.4, 0.5,
                0.4, 0.5, 0.5, 0.6, 0.4, 0.6, 0.5, 0.5, 0.4, 0.5,
                0.5, 0.5, 0.5, 0.6, 0.6, 0.8, 0.9, 1.0, 1.0, 1.2,
                1.3, 1.2, 1.4, 1.5, 1.5]
runin_4_m4 = [2.3, 2.3, 1.5, 1.6, 1.0, 1.2, 0.7, 1.1, 0.6, 1.0,
              0.5, 0.9, 0.4, 0.9, 0.3, 0.8, 0.3, 0.7, 0.2, 0.8,
              0.2, 0.7, 0.1, 0.6, 0.0, 0.5, 0.0, 0.6, 0.0, 0.5,
              0.1, 0.6, 0.0, 0.5, 0.1, 0.6, 0.0, 0.5, 0.0, 0.4,
              0.0, 0.5, 0.0, 0.6, 0.0, 0.5, 0.1, 0.6, 0.2, 0.7,
              0.2, 0.8, 0.3, 0.7, 0.2, 0.8, 0.3, 0.7, 0.2, 0.7,
              0.2, 0.7, 0.3, 0.8, 0.4, 1.0, 0.6, 1.2, 0.8, 1.4,
              0.9, 1.5, 1.1, 1.7, 1.2, 2.0]
runin_4_m4_i = [2.5, 1.8, 1.7, 1.3, 1.2, 0.9, 0.8, 0.9, 0.7, 0.8,
                0.7, 0.6, 0.7, 0.5, 0.6, 0.5, 0.5, 0.6, 0.4, 0.5,
                0.4, 0.5, 0.3, 0.3, 0.4, 0.3, 0.2, 0.3, 0.3, 0.2,
                0.4, 0.3, 0.3, 0.2, 0.4, 0.3, 0.2, 0.3, 0.2, 0.3,
                0.3, 0.2, 0.3, 0.2, 0.4, 0.3, 0.3, 0.4, 0.4, 0.4,
                0.5, 0.4, 0.5, 0.5, 0.6, 0.5, 0.5, 0.4, 0.5, 0.4,
                0.4, 0.5, 0.5, 0.6, 0.7, 0.7, 0.9, 0.9, 1.1, 1.1,
                1.2, 1.3, 1.4, 1.4, 1.6]
runin_4_avg = [2.5, 1.5, 1.0, 0.8, 0.7, 0.6, 0.55, 0.5, 0.45, 0.38, 0.3, 0.3, 0.3,
               0.32, 0.32, 0.25, 0.25, 0.25, 0.3, 0.35, 0.45, 0.5, 0.55, 0.45, 0.42,
               0.5, 0.7, 1.0, 1.2, 1.35, 1.6]

runin_8_m1 = [2.9, 2.1, 2.1, 1.4, 1.5, 1.0, 1.3, 0.7, 1.1, 0.6,
              1.1, 0.5, 1.0, 0.4, 0.9, 0.4, 1.0, 0.3, 0.9, 0.4,
              0.9, 0.3, 0.8, 0.2, 0.7, 0.1, 0.7, 0.2, 0.8, 0.1,
              0.7, 0.2, 0.6, 0.1, 0.8, 0.2, 0.7, 0.1, 0.6, 0.0,
              0.5, 0.0, 0.5, 0.1, 0.6, 0.0, 0.5, 0.1, 0.7, 0.2,
              0.7, 0.2, 0.8, 1.05, 0.7, 0.3, 0.8, 0.2, 0.7, 0.1,
              0.7, 0.2, 0.8, 0.3, 0.9, 0.4, 1.0, 0.6, 1.2, 0.8,
              1.5, 1.0, 1.7, 1.1, 1.9, 1.4]
runin_8_m1_i = [2.3, 2.2, 1.6, 1.6, 1.1, 1.2, 0.8, 1.1, 0.7, 1.0,
                0.6, 0.9, 0.5, 0.8, 0.6, 0.9, 0.4, 0.7, 0.8, 0.5,
                0.7, 0.4, 0.8, 0.3, 0.6, 0.5, 0.2, 0.6, 0.4, 0.7,
                0.3, 0.5, 0.6, 0.2, 0.7, 0.4, 0.5, 0.2, 0.6, 0.3,
                0.5, 0.1, 0.4, 0.4, 0.2, 0.5, 0.3, 0.6, 0.2, 0.6,
                0.4, 0.7, 0.3, 0.6, 0.7, 0.3, 0.6, 0.4, 0.3, 0.7,
                0.4, 0.6, 0.5, 0.8, 0.5, 0.8, 0.7, 1.0, 0.9, 1.3,
                1.2, 1.5, 1.3, 1.6, 1.5]
runin_8_m2 = [2.6, 2.4, 1.7, 1.8, 1.2, 1.3, 0.9, 1.1, 0.7, 1.0,
              0.6, 0.9, 0.5, 0.9, 0.4, 0.8, 0.5, 0.9, 0.3, 0.8,
              0.4, 0.8, 0.3, 0.7, 0.2, 0.6, 0.3, 0.7, 0.2, 0.6,
              0.2, 0.6, 0.1, 0.7, 0.2, 0.8, 0.2, 0.7, 0.1, 0.6,
              0.1, 0.5, 0.1, 0.5, 0.0, 0.6, 0.1, 0.6, 0.2, 0.7,
              0.2, 0.8, 0.2, 0.7, 0.3, 0.8, 0.2, 0.7, 0.2, 0.7,
              0.3, 0.8, 0.3, 0.8, 0.3, 0.9, 0.5, 1.1, 0.8, 1.4,
              1.0, 1.6, 1.2, 1.7, 1.4, 1.8]
runin_8_m2_i = [2.6, 1.9, 1.9, 1.4, 1.3, 1.0, 1.1, 0.8, 0.9, 0.7,
                0.9, 0.6, 0.8, 0.7, 0.5, 0.8, 0.6, 0.5, 0.7, 0.5,
                0.6, 0.7, 0.4, 0.6, 0.3, 0.5, 0.6, 0.3, 0.5, 0.4,
                0.5, 0.3, 0.4, 0.6, 0.3, 0.5, 0.4, 0.3, 0.5, 0.3,
                0.2, 0.4, 0.3, 0.2, 0.4, 0.3, 0.4, 0.3, 0.5, 0.4,
                0.6, 0.4, 0.6, 0.5, 0.4, 0.6, 0.5, 0.4, 0.5, 0.5,
                0.6, 0.4, 0.6, 0.5, 0.7, 0.6, 0.9, 0.8, 1.1, 1.1,
                1.3, 1.4, 1.4, 1.5, 1.7]
runin_8_m3 = [2.4, 2.0, 2.0, 1.4, 1.1, 1.4, 0.8, 0.7, 1.1, 0.5,
              0.6, 0.9, 0.4, 0.8, 0.4, 1.0, 0.5, 0.8, 0.3, 1.2,
              0.4, 0.9, 0.3, 0.6, 0.7, 0.2, 0.6, 0.3, 0.2, 0.7,
              0.3, 0.2, 0.6, 0.3, 0.8, 0.4, 0.8, 0.2, 0.6, 0.1,
              0.2, 0.5, 0.1, 0.6, 0.2, 0.1, 0.5, 0.2, 0.6, 0.3,
              0.7, 0.3, 0.8, 0.4, 0.7, 0.4, 0.3, 0.7, 0.3, 0.6,
              0.4, 0.7, 0.4, 0.8, 0.5, 0.7, 0.9, 0.8, 1.1, 1.3,
              1.4, 1.1, 1.7, 1.3, 1.6, 2.05]
runin_8_m3_i = [2.5, 2.1, 1.7, 1.5, 1.3, 1.1, 0.9, 0.9, 0.8, 0.9,
                0.8, 0.7, 0.7, 0.6, 0.7, 0.6, 0.7, 0.6, 0.5, 0.7,
                0.6, 0.5, 0.6, 0.4, 0.5, 0.4, 0.4, 0.5, 0.3, 0.5,
                0.4, 0.5, 0.3, 0.5, 0.4, 0.6, 0.4, 0.4, 0.3, 0.4,
                0.3, 0.4, 0.3, 0.3, 0.4, 0.3, 0.3, 0.4, 0.4, 0.5,
                0.5, 0.4, 0.6, 0.5, 0.5, 0.6, 0.4, 0.5, 0.4, 0.5,
                0.5, 0.5, 0.6, 0.5, 0.6, 0.6, 0.8, 0.9, 1.1, 1.1,
                1.3, 1.3, 1.5, 1.5, 1.6]
runin_8_m4 = [2.8, 2.3, 1.7, 1.6, 1.5, 1.0, 1.0, 1.1, 0.6, 0.8,
              1.0, 0.5, 0.7, 1.0, 0.5, 0.6, 0.9, 0.4, 0.8, 0.6,
              0.3, 0.9, 0.5, 0.4, 0.8, 0.3, 0.4, 0.7, 0.3, 0.6,
              0.5, 0.2, 0.7, 0.4, 0.3, 0.8, 0.4, 0.5, 0.2, 0.6,
              0.4, 0.1, 0.5, 0.3, 0.1, 0.6, 0.3, 0.2, 0.6, 0.5,
              0.2, 0.7, 0.5, 0.3, 0.8, 0.5, 0.2, 0.7, 0.4, 0.3,
              0.8, 0.4, 0.6, 0.9, 0.4, 0.8, 0.7, 0.9, 1.2, 0.9,
              1.4, 1.3, 1.5, 1.7, 1.4, 1.9]
runin_8_m4_i = [2.4, 2.0, 1.8, 1.4, 1.2, 1.2, 0.9, 1.0, 0.8, 0.8,
                0.7, 0.8, 0.6, 0.7, 0.7, 0.6, 0.6, 0.7, 0.6, 0.6,
                0.5, 0.6, 0.5, 0.5, 0.4, 0.5, 0.4, 0.4, 0.5, 0.4,
                0.4, 0.4, 0.5, 0.4, 0.5, 0.4, 0.5, 0.4, 0.4, 0.3,
                0.4, 0.3, 0.3, 0.4, 0.3, 0.3, 0.4, 0.3, 0.4, 0.4,
                0.5, 0.5, 0.5, 0.6, 0.5, 0.5, 0.5, 0.4, 0.5, 0.4,
                0.5, 0.5, 0.6, 0.5, 0.6, 0.7, 0.8, 0.9, 1.0, 1.2,
                1.3, 1.3, 1.4, 1.6, 1.6]
runin_8_avg = [2.7, 1.7, 1.15, 0.9, 0.8, 0.7, 0.65, 0.62, 0.6, 0.55, 0.45, 0.42, 0.42,
               0.42, 0.48, 0.42, 0.35, 0.32, 0.32, 0.4, 0.48, 0.52, 0.52, 0.45, 0.48,
               0.55, 0.6, 0.95, 1.25, 1.45, 1.65]

runin_30_m1 = [3.0, 2.1, 2.2, 1.3, 1.6, 0.8, 1.4, 0.7, 1.3, 0.6,
               1.2, 0.5, 1.3, 0.6, 1.1, 0.4, 1.2, 0.9, 0.5, 1.1,
               0.5, 1.2, 0.4, 1.0, 0.5, 1.1, 0.3, 1.0, 0.2, 0.9,
               0.4, 1.0, 0.3, 0.9, 0.2, 1.1, 0.4, 0.9, 0.3, 1.0,
               0.2, 0.8, 0.1, 0.7, 0.2, 0.8, 0.05, 0.6, 0.3, 0.9,
               0.2, 0.8, 0.4, 1.0, 0.3, 0.9, 0.4, 1.1, 0.3, 0.8,
               0.3, 0.9, 0.4, 1.1, 0.5, 1.2, 0.7, 1.4, 0.8, 1.5,
               1.1, 1.8, 1.2, 1.9, 1.5, 2.1]
runin_30_m1_i = [2.6, 1.9, 1.9, 1.7, 1.1, 1.3, 0.9, 1.2, 0.8, 1.1,
                 0.8, 1.0, 1.1, 0.6, 0.9, 1.1, 0.6, 0.9, 0.7, 1.0,
                 0.6, 0.9, 1.0, 0.5, 0.8, 0.7, 0.9, 0.5, 0.8, 0.6,
                 0.4, 0.8, 0.7, 0.5, 0.9, 0.6, 0.8, 0.4, 0.7, 0.5,
                 0.6, 0.4, 0.7, 0.3, 0.5, 0.6, 0.3, 0.7, 0.4, 0.6,
                 0.5, 0.8, 0.6, 0.9, 0.5, 0.8, 0.7, 0.5, 0.9, 0.6,
                 0.7, 0.5, 0.8, 0.9, 0.7, 1.0, 1.0, 1.2, 1.1, 1.3,
                 1.5, 1.3, 1.7, 1.6, 1.9]
runin_30_m2 = [2.8, 2.5, 1.8, 1.8, 1.2, 1.3, 1.0, 0.8, 1.2, 0.7,
               1.2, 0.6, 1.0, 1.1, 0.5, 0.9, 1.1, 0.5, 1.0, 0.6,
               0.9, 1.1, 0.5, 0.9, 0.6, 1.1, 0.4, 0.8, 0.4, 0.9,
               0.5, 0.8, 0.3, 0.9, 0.5, 0.8, 1.0, 0.4, 0.8, 0.4,
               0.7, 0.3, 0.6, 0.7, 0.2, 0.6, 0.3, 0.7, 0.3, 0.8,
               0.4, 0.7, 1.0, 0.5, 0.9, 0.5, 0.8, 0.4, 0.9, 0.4,
               0.8, 0.5, 0.8, 0.9, 0.6, 1.0, 1.1, 1.0, 1.3, 1.2,
               1.5, 1.3, 1.7, 1.6, 1.8, 2.2]
runin_30_m2_i = [2.5, 2.2, 1.7, 1.5, 1.4, 1.0, 1.2, 0.9, 1.1, 0.8,
                 1.0, 0.8, 0.9, 0.7, 0.8, 0.9, 0.7, 0.8, 0.9, 0.7,
                 0.9, 0.7, 0.8, 0.6, 0.9, 0.7, 0.6, 0.8, 0.5, 0.7,
                 0.7, 0.6, 0.8, 0.6, 0.7, 0.8, 0.5, 0.7, 0.6, 0.7,
                 0.5, 0.6, 0.4, 0.5, 0.5, 0.4, 0.6, 0.4, 0.6, 0.5,
                 0.6, 0.7, 0.6, 0.8, 0.6, 0.7, 0.6, 0.7, 0.6, 0.7,
                 0.6, 0.7, 0.8, 0.7, 0.9, 0.9, 1.1, 1.0, 1.3, 1.2,
                 1.4, 1.6, 1.5, 1.8, 1.8]
runin_30_m3 = [2.5, 2.4, 1.7, 1.6, 1.6, 1.1, 0.8, 1.2, 1.3, 0.6,
               1.0, 0.6, 1.2, 0.9, 0.5, 1.0, 0.6, 1.2, 0.5, 0.9,
               1.1, 0.4, 1.1, 0.9, 0.5, 1.0, 0.8, 0.4, 0.9, 0.5,
               0.9, 0.3, 0.8, 1.0, 0.4, 0.9, 0.5, 1.0, 0.4, 0.8,
               0.7, 0.3, 0.8, 0.2, 0.5, 0.7, 0.2, 0.6, 0.8, 0.3,
               0.8, 0.4, 0.9, 1.0, 0.5, 0.9, 0.4, 0.8, 1.0, 0.4,
               0.8, 0.5, 1.0, 0.6, 1.0, 0.8, 1.2, 0.9, 1.3, 1.4,
               1.2, 1.6, 1.7, 1.4, 1.9, 2.0]
runin_30_m3_i = [2.6, 2.0, 1.8, 1.6, 1.2, 1.2, 1.0, 1.1, 0.9, 1.0,
                 1.0, 0.8, 0.9, 0.8, 0.7, 0.9, 0.8, 0.7, 0.9, 0.8,
                 0.7, 0.9, 0.7, 0.8, 0.7, 0.8, 0.6, 0.7, 0.7, 0.6,
                 0.7, 0.6, 0.7, 0.7, 0.6, 0.8, 0.7, 0.6, 0.7, 0.5,
                 0.6, 0.5, 0.5, 0.4, 0.5, 0.5, 0.4, 0.5, 0.6, 0.5,
                 0.6, 0.6, 0.7, 0.7, 0.6, 0.7, 0.7, 0.6, 0.6, 0.7,
                 0.6, 0.7, 0.7, 0.8, 0.8, 0.9, 1.0, 1.1, 1.2, 1.3,
                 1.4, 1.5, 1.6, 1.7, 1.8]
runin_30_m4 = [2.7, 2.5, 1.7, 2.0, 1.1, 1.4, 0.8, 1.3, 0.7, 1.2,
               0.7, 1.2, 0.6, 0.5, 1.1, 0.5, 1.1, 0.4, 1.2, 0.6,
               1.1, 0.5, 1.2, 0.4, 1.0, 0.5, 1.1, 0.4, 0.9, 0.3,
               1.0, 0.4, 0.8, 0.2, 1.0, 0.5, 0.9, 0.2, 1.0, 0.4,
               0.8, 0.2, 0.9, 0.1, 0.8, 0.2, 0.7, 0.1, 0.9, 0.2,
               1.0, 0.3, 1.1, 0.4, 1.0, 0.3, 0.9, 0.2, 1.0, 0.3,
               0.9, 0.3, 1.0, 0.5, 0.4, 1.2, 0.6, 1.4, 0.8, 1.6,
               1.0, 1.7, 1.3, 2.0, 1.4, 1.9]
runin_30_m4_i = [2.4, 2.3, 1.8, 1.4, 1.4, 1.1, 1.1, 0.9, 1.0, 0.9,
                 0.9, 1.0, 0.8, 0.9, 0.8, 0.7, 0.9, 0.8, 0.7, 0.9,
                 0.8, 0.8, 0.7, 0.9, 0.7, 0.8, 0.7, 0.6, 0.7, 0.7,
                 0.6, 0.7, 0.6, 0.8, 0.7, 0.6, 0.7, 0.7, 0.6, 0.6,
                 0.6, 0.5, 0.5, 0.5, 0.4, 0.5, 0.5, 0.5, 0.5, 0.6,
                 0.6, 0.6, 0.7, 0.6, 0.7, 0.7, 0.6, 0.7, 0.6, 0.6,
                 0.7, 0.6, 0.7, 0.8, 0.9, 0.9, 1.0, 1.1, 1.2, 1.3,
                 1.4, 1.5, 1.6, 1.7, 1.8]
runin_30_avg = [2.8, 1.7, 1.15, 1.0, 0.95, 0.85, 0.8, 0.8, 0.8, 0.78, 0.75, 0.65, 0.65,
                0.65, 0.68, 0.65, 0.58, 0.5, 0.45, 0.5, 0.55, 0.68, 0.68, 0.65, 0.62,
                0.7, 0.9, 1.1, 1.35, 1.6, 1.85]

runin_70_m1 = [3.0, 2.7, 1.9, 2.2, 1.4, 1.8, 1.1, 1.5, 0.9, 1.4,
               0.8, 1.3, 0.7, 1.2, 0.6, 1.3, 0.5, 1.1, 0.6, 1.2,
               0.5, 1.2, 0.6, 1.3, 0.4, 1.1, 0.5, 1.1, 0.3, 1.0,
               0.5, 1.1, 0.4, 1.0, 0.6, 1.2, 0.5, 1.1, 0.4, 1.0,
               0.5, 1.0, 0.3, 0.9, 0.4, 1.0, 0.2, 0.9, 0.3, 0.9,
               0.3, 1.0, 0.4, 1.1, 0.4, 1.0, 0.3, 1.0, 0.4, 1.0,
               0.4, 1.1, 0.5, 1.1, 0.6, 1.2, 0.7, 1.4, 0.9, 1.6,
               1.1, 1.8, 1.4, 2.1, 1.6, 2.2]
runin_70_m1_i = [2.4, 2.5, 1.8, 2.0, 1.4, 1.6, 1.1, 1.4, 0.9, 1.3,
                 0.8, 1.2, 0.7, 1.1, 1.2, 0.6, 1.0, 1.1, 0.6, 1.1,
                 0.7, 1.0, 1.2, 0.6, 1.0, 0.6, 0.9, 1.0, 0.5, 0.9,
                 0.6, 1.0, 0.6, 1.0, 1.1, 0.6, 1.0, 0.6, 0.9, 0.5,
                 0.9, 0.5, 0.9, 0.5, 0.8, 0.9, 0.4, 0.8, 0.4, 0.8,
                 0.5, 0.9, 0.6, 0.9, 0.5, 0.9, 0.5, 0.8, 0.9, 0.5,
                 0.9, 0.6, 1.0, 0.7, 1.1, 0.8, 1.3, 0.9, 1.4, 1.2,
                 1.6, 1.4, 1.9, 1.7, 2.1]
runin_70_m2 = [2.8, 2.2, 2.3, 1.7, 1.9, 1.3, 1.6, 1.1, 1.4, 0.9,
               1.3, 0.8, 1.0, 1.2, 0.6, 1.1, 0.6, 1.2, 1.0, 0.6,
               1.1, 0.6, 1.2, 0.9, 0.5, 1.1, 0.5, 1.0, 0.7, 0.5,
               1.0, 0.5, 1.1, 0.6, 1.2, 0.7, 1.0, 0.5, 1.0, 0.6,
               0.9, 0.4, 1.0, 0.5, 0.9, 0.4, 0.8, 0.3, 0.8, 0.5,
               0.9, 0.4, 1.0, 0.6, 0.9, 0.4, 1.0, 0.4, 0.8, 0.5,
               0.9, 0.5, 1.0, 0.6, 1.1, 0.7, 1.2, 0.9, 1.4, 1.1,
               1.6, 1.3, 1.8, 1.6, 2.1, 1.8]
runin_70_m2_i = [2.7, 2.1, 2.1, 1.6, 1.8, 1.3, 1.5, 1.0, 1.3, 0.9,
                 1.2, 0.8, 1.1, 0.8, 1.0, 0.7, 1.1, 0.7, 1.0, 0.7,
                 1.0, 0.7, 1.1, 0.6, 1.0, 0.7, 0.9, 0.6, 0.9, 0.6,
                 0.9, 0.6, 1.0, 0.7, 1.0, 0.7, 1.0, 0.6, 0.9, 0.6,
                 0.9, 0.5, 0.9, 0.5, 0.8, 0.5, 0.8, 0.4, 0.8, 0.5,
                 0.8, 0.5, 0.9, 0.6, 0.9, 0.6, 0.8, 0.5, 0.8, 0.6,
                 0.9, 0.6, 0.9, 0.7, 1.0, 0.8, 1.2, 1.0, 1.3, 1.2,
                 1.6, 1.5, 1.8, 1.7, 2.0]
runin_70_m3 = [2.5, 2.6, 1.9, 2.1, 1.5, 1.3, 1.4, 1.0, 0.9, 1.35,
               1.2, 0.7, 1.1, 0.6, 1.1, 0.5, 0.8, 1.2, 0.6, 1.3,
               0.5, 1.1, 1.0, 0.6, 1.3, 0.5, 1.0, 0.3, 0.7, 1.05,
               0.4, 1.0, 1.2, 0.5, 1.0, 0.7, 1.2, 0.5, 1.0, 0.9,
               0.4, 1.0, 0.9, 0.3, 0.9, 0.2, 0.8, 0.5, 0.3, 0.9,
               0.6, 0.3, 1.0, 0.5, 0.9, 0.8, 0.4, 1.0, 0.4, 0.9,
               0.6, 1.0, 0.7, 1.1, 1.0, 0.8, 1.2, 1.3, 1.2, 1.4,
               1.4, 1.6, 1.7, 1.9, 1.8, 2.5]
runin_70_m3_i = [2.8, 2.2, 2.0, 1.7, 1.7, 1.3, 1.2, 1.3, 1.0, 1.1,
                 1.0, 1.1, 0.8, 1.0, 0.8, 0.9, 1.0, 0.7, 0.9, 0.8,
                 1.0, 0.8, 0.9, 0.7, 0.9, 0.8, 0.7, 0.9, 0.6, 0.8,
                 0.8, 0.7, 0.9, 0.7, 0.9, 0.8, 0.8, 0.9, 0.7, 0.8,
                 0.7, 0.8, 0.6, 0.8, 0.6, 0.7, 0.5, 0.7, 0.6, 0.6,
                 0.7, 0.6, 0.8, 0.7, 0.8, 0.6, 0.7, 0.8, 0.6, 0.7,
                 0.7, 0.8, 0.7, 0.9, 0.9, 1.0, 1.1, 1.1, 1.3, 1.3,
                 1.5, 1.6, 1.7, 1.9, 1.9]
runin_70_m4 = [2.7, 2.6, 2.0, 1.8, 2.0, 1.2, 1.6, 1.0, 1.2, 1.2,
               0.9, 1.3, 0.7, 1.2, 0.5, 0.9, 1.2, 0.5, 0.9, 1.1,
               0.6, 1.3, 0.7, 0.5, 1.1, 0.8, 0.4, 1.0, 0.9, 0.5,
               1.1, 0.7, 0.4, 1.0, 0.7, 1.35, 0.6, 1.1, 0.5, 0.9,
               1.0, 0.4, 0.8, 0.9, 0.3, 0.7, 0.9, 0.3, 0.7, 0.4,
               0.9, 0.3, 0.8, 1.0, 0.4, 0.7, 1.05, 0.4, 0.6, 0.9,
               0.4, 0.9, 0.8, 0.5, 1.1, 0.9, 0.8, 1.3, 1.0, 1.5,
               1.3, 1.7, 1.4, 1.9, 2.1, 1.7]
runin_70_m4_i = [2.5, 2.4, 1.8, 2.0, 1.4, 1.6, 1.4, 1.0, 1.3, 0.8,
                 1.3, 0.8, 1.2, 0.7, 1.1, 0.8, 0.6, 1.1, 0.7, 1.2,
                 0.6, 1.1, 0.7, 1.0, 0.5, 1.1, 0.6, 0.9, 0.5, 1.0,
                 0.5, 1.0, 0.6, 1.1, 0.6, 1.0, 0.5, 1.0, 0.6, 0.9,
                 0.5, 0.9, 0.5, 0.8, 0.4, 0.8, 0.4, 0.8, 0.4, 0.8,
                 0.5, 0.9, 0.5, 0.9, 0.5, 0.9, 0.5, 0.9, 0.5, 0.9,
                 0.5, 1.0, 0.6, 1.1, 0.7, 1.2, 0.8, 1.3, 1.0, 1.5,
                 1.2, 1.8, 1.4, 2.0, 1.7]
runin_70_avg = [2.8, 1.95, 1.5, 1.2, 1.05, 0.95, 0.88, 0.85, 0.88, 0.85, 0.8, 0.75, 0.75,
                0.78, 0.85, 0.8, 0.75, 0.7, 0.65, 0.6, 0.65, 0.72, 0.72, 0.68, 0.7, 0.8,
                0.95, 1.15, 1.4, 1.7, 2.0]

runin_100_m1 = [2.6, 3.2, 2.2, 2.1, 1.8, 1.7, 1.4, 1.4, 1.5, 1.0,
                1.3, 0.8, 1.2, 0.7, 1.1, 0.6, 1.3, 0.5, 1.1, 0.6,
                1.1, 0.5, 1.2, 0.6, 1.1, 0.5, 1.2, 0.4, 1.0, 0.5,
                1.0, 0.4, 1.2, 0.5, 1.1, 0.3, 1.0, 1.1, 0.5, 1.0,
                0.5, 1.1, 0.4, 0.9, 0.3, 0.9, 0.4, 0.8, 0.3, 0.9,
                0.4, 0.9, 0.3, 1.0, 0.2, 0.9, 0.4, 0.9, 0.3, 0.8,
                0.5, 0.9, 1.25, 0.5, 1.0, 0.6, 1.2, 0.7, 1.4, 0.9,
                1.5, 1.1, 1.7, 1.2, 1.9, 1.5]
runin_100_m1_i = [2.9, 2.3, 2.2, 1.7, 1.8, 1.3, 1.5, 1.1, 1.3, 0.9,
                  1.2, 0.8, 1.1, 0.7, 1.0, 0.6, 0.9, 0.6, 1.0, 0.5,
                  0.9, 0.6, 1.0, 0.5, 0.9, 0.6, 0.9, 0.5, 0.8, 0.5,
                  0.9, 0.5, 0.9, 0.6, 1.0, 0.6, 1.0, 0.6, 0.9, 0.5,
                  0.9, 0.5, 0.9, 0.4, 0.8, 0.4, 0.8, 0.4, 0.7, 0.4,
                  0.8, 0.4, 0.9, 0.5, 0.9, 0.5, 0.8, 0.4, 0.8, 0.5,
                  0.9, 0.5, 0.9, 0.6, 1.0, 0.7, 1.1, 0.8, 1.2, 1.0,
                  1.4, 1.2, 1.6, 1.4, 1.9]
runin_100_m2 = [3.2, 2.4, 2.3, 1.9, 1.5, 1.6, 1.3, 1.1, 1.4, 0.9,
                1.2, 1.1, 0.6, 1.1, 0.6, 1.0, 0.5, 1.0, 0.5, 0.9,
                0.6, 1.0, 0.5, 1.1, 0.5, 1.0, 0.4, 1.0, 0.5, 0.9,
                0.6, 0.5, 0.9, 0.5, 1.0, 0.6, 1.1, 0.6, 1.0, 0.5,
                0.9, 0.5, 0.8, 0.4, 0.8, 0.3, 0.9, 0.4, 0.5, 0.8,
                0.4, 1.0, 0.5, 0.8, 0.4, 0.9, 0.5, 0.8, 0.4, 0.9,
                0.5, 0.8, 0.5, 0.9, 0.7, 1.0, 0.9, 1.1, 1.0, 1.3,
                1.1, 1.5, 1.4, 1.7, 1.3, 1.7]
runin_100_m2_i = [2.6, 2.5, 1.9, 1.9, 1.5, 1.6, 1.2, 1.4, 1.0, 1.2,
                  0.9, 1.1, 0.8, 1.1, 0.7, 1.0, 0.6, 0.9, 0.6, 0.9,
                  0.6, 0.9, 0.6, 1.0, 0.5, 0.9, 0.6, 0.9, 0.5, 0.8,
                  0.5, 0.9, 0.6, 0.9, 0.6, 1.0, 0.6, 1.0, 0.6, 0.9,
                  0.6, 0.9, 0.5, 0.8, 0.5, 0.8, 0.4, 0.8, 0.4, 0.8,
                  0.4, 0.8, 0.5, 0.9, 0.5, 0.9, 0.5, 0.8, 0.4, 0.8,
                  0.5, 0.9, 0.5, 0.9, 0.6, 1.0, 0.8, 1.2, 0.9, 1.3,
                  1.1, 1.5, 1.3, 1.7, 1.5]
runin_100_m3 = [2.5, 3.5, 2.0, 2.2, 1.5, 1.9, 1.2, 1.6, 1.0, 1.4,
                0.9, 1.3, 0.8, 0.7, 1.2, 1.0, 0.6, 1.1, 0.5, 1.0,
                0.9, 0.5, 1.1, 1.0, 0.6, 1.0, 0.5, 0.9, 0.4, 1.0,
                0.8, 0.5, 1.0, 0.6, 1.2, 1.15, 0.6, 1.0, 0.5, 0.9,
                0.8, 0.5, 1.0, 0.1, 0.8, 0.5, 0.3, 0.8, 0.4, 0.7,
                0.4, 0.8, 0.5, 0.9, 0.8, 0.4, 0.9, 0.5, 0.8, 0.9,
                0.5, 0.9, 0.6, 0.9, 1.1, 0.7, 1.2, 0.9, 1.4, 1.1,
                1.4, 1.4, 1.5, 1.8, 1.6, 2.2]
runin_100_m3_i = [2.8, 2.2, 2.1, 1.8, 1.5, 1.5, 1.3, 1.2, 1.2, 1.0,
                  1.1, 0.9, 1.0, 0.8, 0.9, 0.7, 0.9, 0.7, 0.8, 0.7,
                  0.9, 0.7, 0.8, 0.8, 0.7, 0.8, 0.6, 0.8, 0.6, 0.7,
                  0.7, 0.7, 0.8, 0.6, 0.8, 0.7, 0.9, 0.7, 0.8, 0.7,
                  0.8, 0.6, 0.8, 0.6, 0.7, 0.6, 0.6, 0.5, 0.7, 0.5,
                  0.7, 0.6, 0.7, 0.6, 0.8, 0.6, 0.7, 0.6, 0.7, 0.6,
                  0.7, 0.6, 0.8, 0.7, 0.9, 0.8, 1.0, 0.9, 1.1, 1.1,
                  1.3, 1.3, 1.5, 1.5, 1.7]
runin_100_m4 = [3.4, 2.5, 2.5, 1.7, 2.1, 1.2, 1.7, 0.9, 1.5, 0.8,
                1.3, 0.6, 1.2, 0.35, 1.1, 0.5, 1.1, 0.6, 1.0, 0.4,
                1.0, 0.5, 1.1, 0.4, 1.0, 0.5, 0.9, 0.3, 1.0, 0.4,
                1.0, 0.4, 0.9, 0.5, 1.1, 0.6, 1.25, 0.5, 1.0, 0.4,
                1.0, 0.3, 0.9, 0.4, 0.8, 0.3, 0.8, 0.2, 0.9, 0.3,
                1.0, 0.4, 0.9, 0.2, 1.0, 0.15, 0.9, 0.3, 1.0, 0.4,
                0.9, 0.4, 1.0, 0.5, 1.1, 0.6, 1.2, 0.8, 1.4, 0.9,
                1.6, 1.1, 1.8, 1.2, 1.7, 1.8]
runin_100_m4_i = [2.7, 2.4, 2.0, 1.9, 1.6, 1.4, 1.4, 1.2, 1.1, 1.1,
                  1.0, 1.0, 0.9, 0.9, 0.8, 0.8, 0.7, 0.8, 0.7, 0.8,
                  0.7, 0.8, 0.7, 0.8, 0.8, 0.7, 0.7, 0.7, 0.6, 0.7,
                  0.6, 0.7, 0.7, 0.7, 0.7, 0.8, 0.8, 0.8, 0.7, 0.8,
                  0.7, 0.7, 0.7, 0.6, 0.6, 0.6, 0.6, 0.6, 0.6, 0.6,
                  0.6, 0.6, 0.7, 0.7, 0.7, 0.7, 0.6, 0.6, 0.6, 0.7,
                  0.6, 0.7, 0.7, 0.8, 0.8, 0.9, 0.9, 1.0, 1.1, 1.2,
                  1.2, 1.4, 1.4, 1.6, 1.7]
runin_100_avg = [3.0, 2.0, 1.55, 1.25, 1.02, 0.95, 0.8, 0.77, 0.75, 0.77, 0.77, 0.7,
                 0.67, 0.72, 0.75, 0.8, 0.76, 0.68, 0.61, 0.57, 0.59, 0.65, 0.67, 0.62,
                 0.65, 0.7, 0.86, 1.0, 1.22, 1.45, 1.78]

short_runs = [
    ([(short_2_m1, short_2_m1_i), (short_2_m2, short_2_m2_i),
      (short_2_m3, short_2_m3_i), (short_2_m4, short_2_m4_i)], short_2_avg),
    ([(short_4_m1, short_4_m1_i), (short_4_m2, short_4_m2_i),
      (short_4_m3, short_4_m3_i), (short_4_m4, short_4_m4_i)], short_4_avg),
    ([(short_8_m1, short_8_m1_i), (short_8_m2, short_8_m2_i),
      (short_8_m3, short_8_m3_i), (short_8_m4, short_8_m4_i)], short_8_avg),
    ([(short_30_m1, short_30_m1_i), (short_30_m2, short_30_m2_i),
      (short_30_m3, short_30_m3_i), (short_30_m4, short_30_m4_i)], short_30_avg),
    ([(short_70_m1, short_70_m1_i), (short_70_m2, short_70_m2_i),
      (short_70_m3, short_70_m3_i), (short_70_m4, short_70_m4_i)], short_70_avg),
    ([(short_100_m1, short_100_m1_i), (short_100_m2, short_100_m2_i),
      (short_100_m3, short_100_m3_i), (short_100_m4, short_100_m4_i)], short_100_avg),
]
runin_runs = [
    ([(runin_2_m1, runin_2_m1_i), (runin_2_m2, runin_2_m2_i),
      (runin_2_m3, runin_2_m3_i), (runin_2_m4, runin_2_m4_i)], runin_2_avg),
    ([(runin_4_m1, runin_4_m1_i), (runin_4_m2, runin_4_m2_i),
      (runin_4_m3, runin_4_m3_i), (runin_4_m4, runin_4_m4_i)], runin_4_avg),
    ([(runin_8_m1, runin_8_m1_i), (runin_8_m2, runin_8_m2_i),
      (runin_8_m3, runin_8_m3_i), (runin_8_m4, runin_8_m4_i)], runin_8_avg),
    ([(runin_30_m1, runin_30_m1_i), (runin_30_m2, runin_30_m2_i),
      (runin_30_m3, runin_30_m3_i), (runin_30_m4, runin_30_m4_i)], runin_30_avg),
    ([(runin_70_m1, runin_70_m1_i), (runin_70_m2, runin_70_m2_i),
      (runin_70_m3, runin_70_m3_i), (runin_70_m4, runin_70_m4_i)], runin_70_avg),
    ([(runin_100_m1, runin_100_m1_i), (runin_100_m2, runin_100_m2_i),
      (runin_100_m3, runin_100_m3_i), (runin_100_m4, runin_100_m4_i)], runin_100_avg),
]

run_colors = ['#222222', '#c48c5a', '#1f1fff', '#ff1f1f']


def profile(halves, start):
    """Put the two interleaved halves of a measurement back in axial order."""
    even, odd = halves
    xs = np.concatenate([start + 2 * np.arange(len(even)),
                         start + 1 + 2 * np.arange(len(odd))])
    ys = np.concatenate([even, odd])
    order = np.argsort(xs, kind='stable')
    return xs[order], ys[order]


W, H = 1141, 1645
fig = plt.figure(figsize=(W / 100, H / 100), dpi=100)

col_left = [57.7, 629.2]
col_width = [489.7, 492.0]
col_start = [short_start, runin_start]
col_xlim = [(385, 500), (380, 530)]
col_ticks = [np.arange(390, 501, 10), np.arange(380, 531, 10)]
col_avg_x = [short_avg_x, runin_avg_x]
col_data = [short_runs, runin_runs]

for row, rpm in enumerate(speeds):
    top = 12.6 + 275.4 * row
    for col in range(2):
        ax = fig.add_axes([col_left[col] / W, 1 - (top + 204.5) / H,
                           col_width[col] / W, 204.5 / H])
        runs, avg = col_data[col][row]
        for halves, c in zip(runs, run_colors):
            xs, ys = profile(halves, col_start[col])
            ax.plot(xs, ys, color=c, lw=0.7, zorder=2)
        ax.plot(col_avg_x[col], avg, color='black', lw=2.0, zorder=3)

        ax.set_xlim(*col_xlim[col])
        ax.set_ylim(0, 5)
        ax.set_xticks(col_ticks[col])
        ax.set_yticks(range(6))
        ax.yaxis.set_minor_locator(MultipleLocator(0.5))
        ax.grid(which='major', color='#c4c4c4', lw=0.9, zorder=0)
        ax.grid(which='minor', axis='y', color='#c4c4c4', lw=0.9, zorder=0)
        ax.set_axisbelow(True)
        ax.tick_params(which='both', direction='in', length=3, width=0.6,
                       top=True, right=True, labelsize=12, pad=6)
        ax.tick_params(which='minor', length=0)
        for s in ax.spines.values():
            s.set_linewidth(0.9)
        ax.set_xlabel("axial position, µm", fontsize=12.5, labelpad=4)
        ax.set_ylabel("film thickness, µm", fontsize=12.5, labelpad=6)

        ax.text(0.088, 0.849, f"{rpm} rpm", transform=ax.transAxes, fontsize=18.5,
                ha='left', va='center', zorder=5,
                bbox=dict(boxstyle='round,pad=0.25,rounding_size=0.3', fc='white',
                          ec='black', lw=1.0))
        if row == 0:
            ax.text(0.5, 0.874, seal_names[col], transform=ax.transAxes,
                    fontsize=20, ha='center', va='center', zorder=5,
                    bbox=dict(boxstyle='round,pad=0.15,rounding_size=0.3',
                              fc='white', ec='black', lw=1.0))

fig.savefig("out.png", dpi=100)
